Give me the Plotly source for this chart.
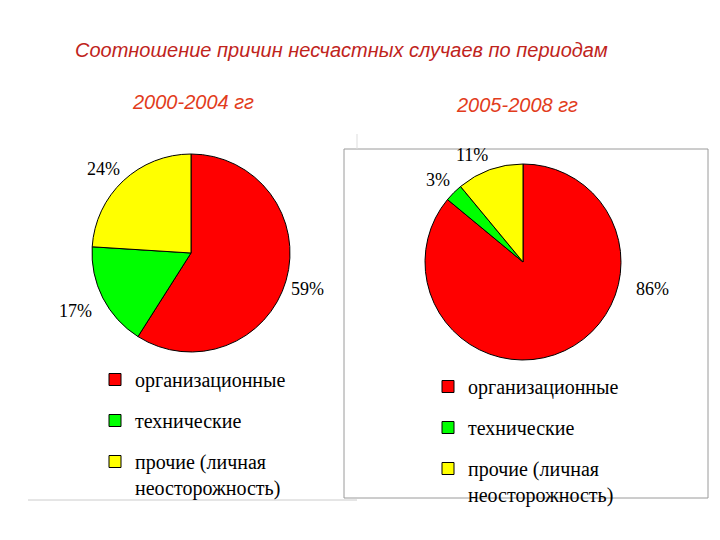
import plotly.graph_objects as go

# ---- data ----
categories = ["организационные", "технические", "прочие (личная<br>неосторожность)"]
period_1 = "2000-2004 гг"
period_2 = "2005-2008 гг"
values_1 = [59, 17, 24]
values_2 = [86, 3, 11]
title_text = "Соотношение причин несчастных случаев по периодам"

colors = ["#FF0000", "#00FF00", "#FFFF00"]

W, H = 720, 540

def px(x):
    return x / W

def py(y):
    return 1 - y / H

fig = go.Figure()

# pies
fig.add_trace(go.Pie(
    labels=categories, values=values_1, sort=False, direction="clockwise", rotation=0,
    marker=dict(colors=colors, line=dict(color="black", width=1)),
    textinfo="none", showlegend=False, hoverinfo="label+percent",
    domain=dict(x=[px(92), px(290)], y=[py(352), py(154)]),
))
fig.add_trace(go.Pie(
    labels=categories, values=values_2, sort=False, direction="clockwise", rotation=0,
    marker=dict(colors=colors, line=dict(color="black", width=1)),
    textinfo="none", showlegend=False, hoverinfo="label+percent",
    domain=dict(x=[px(425), px(621)], y=[py(360), py(164)]),
))

# legend entries (one legend per panel)
for leg in ["legend", "legend2"]:
    for i, (cat, col) in enumerate(zip(categories, colors)):
        fig.add_trace(go.Scatter(
            x=[None], y=[None], mode="markers", name=cat,
            marker=dict(symbol="square", size=12, color=col, line=dict(color="black", width=1)),
            legend=leg, legendgroup=f"{leg}_{i}", showlegend=True,
        ))

# percentage labels (text anchors in pixels)
label_pos_1 = [(307, 289), (75, 311), (103, 169)]
label_pos_2 = [(652, 289), (438, 180), (472, 155)]
annotations = []
for vals, poss in [(values_1, label_pos_1), (values_2, label_pos_2)]:
    for v, (x, y) in zip(vals, poss):
        annotations.append(dict(
            x=px(x), y=py(y), xref="paper", yref="paper", text=f"{v}%", showarrow=False,
            font=dict(family="Liberation Serif", size=18, color="black"),
            xanchor="center", yanchor="middle",
        ))

annotations.append(dict(
    x=px(341), y=py(50), xref="paper", yref="paper",
    text=f"<i>{title_text}</i>", showarrow=False,
    font=dict(family="Liberation Sans", size=20, color="#C0241C"),
    xanchor="center", yanchor="middle",
))
annotations.append(dict(
    x=px(193), y=py(102), xref="paper", yref="paper", text=f"<i>{period_1}</i>", showarrow=False,
    font=dict(family="Liberation Sans", size=20, color="#E23C1C"), xanchor="center", yanchor="middle",
))
annotations.append(dict(
    x=px(517), y=py(105), xref="paper", yref="paper", text=f"<i>{period_2}</i>", showarrow=False,
    font=dict(family="Liberation Sans", size=20, color="#E23C1C"), xanchor="center", yanchor="middle",
))

shapes = [
    dict(type="rect", xref="paper", yref="paper", x0=px(344), x1=px(708), y0=py(498), y1=py(149),
         line=dict(color="#9A9A9A", width=1)),
    dict(type="line", xref="paper", yref="paper", x0=px(28), x1=px(357), y0=py(500), y1=py(500),
         line=dict(color="#CCCCCC", width=1)),
    dict(type="line", xref="paper", yref="paper", x0=px(357), x1=px(357), y0=py(149), y1=py(134),
         line=dict(color="#DDDDDD", width=1)),
]

legend_style = dict(
    font=dict(family="Liberation Serif", size=20, color="black"),
    bgcolor="rgba(0,0,0,0)", traceorder="grouped", tracegroupgap=12,
    valign="top", xanchor="left", yanchor="top", itemclick=False, itemdoubleclick=False,
)

fig.update_layout(
    width=W, height=H, margin=dict(l=0, r=0, t=0, b=0),
    paper_bgcolor="white", plot_bgcolor="white",
    xaxis=dict(visible=False), yaxis=dict(visible=False),
    annotations=annotations, shapes=shapes,
    legend=dict(x=px(95), y=py(360), **legend_style),
    legend2=dict(x=px(428), y=py(367), **legend_style),
)

fig.write_html("out.html")
